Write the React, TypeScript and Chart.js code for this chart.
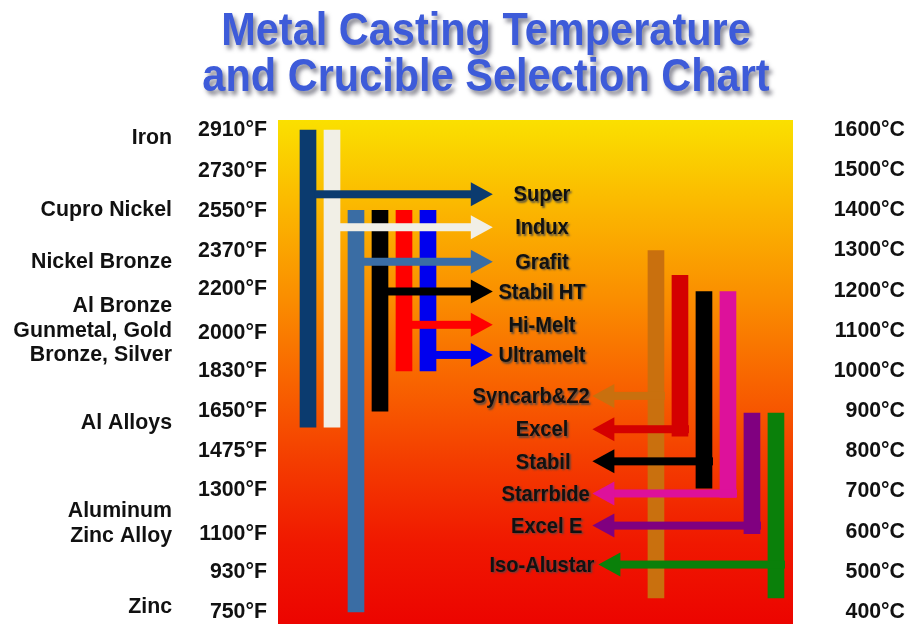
import React, { useEffect, useRef } from 'react';
import { Chart, registerables } from 'chart.js';

Chart.register(...registerables);

// ---------- data ----------
const TITLE_LINES = ['Metal Casting Temperature', 'and Crucible Selection Chart'];

const CELSIUS_TICKS = [400, 500, 600, 700, 800, 900, 1000, 1100, 1200, 1300, 1400, 1500, 1600];
const FAHRENHEIT_TICKS = [750, 930, 1100, 1300, 1475, 1650, 1830, 2000, 2200, 2370, 2550, 2730, 2910];

const METAL_NAMES: string[][] = [
  ['Zinc'],
  ['Aluminum', 'Zinc Alloy'],
  ['Al Alloys'],
  ['Al Bronze', 'Gunmetal, Gold', 'Bronze, Silver'],
  ['Nickel Bronze'],
  ['Cupro Nickel'],
  ['Iron'],
];
const METAL_TEMPS_C = [412, 620, 870, 1100, 1272, 1400, 1580];

const CRUCIBLES = ['Super', 'Indux', 'Grafit', 'Stabil HT', 'Hi-Melt', 'Ultramelt',
  'Syncarb&Z2', 'Excel', 'Stabil', 'Starrbide', 'Excel E', 'Iso-Alustar'];
const BAR_COLUMN = [1, 2, 3, 4, 5, 6, 15.5, 16.5, 17.5, 18.5, 19.5, 20.5];
const RANGE_LOW_C = [860, 860, 400, 900, 1000, 1000, 435, 838, 708, 685, 595, 435];
const RANGE_HIGH_C = [1600, 1600, 1400, 1400, 1400, 1400, 1300, 1238, 1198, 1198, 895, 895];
const ARROW_TEMP_C = [1440, 1358, 1272, 1198, 1115, 1040, 938, 855, 775, 695, 615, 518];
const ARROW_TIP_COL = [8.7, 8.7, 8.7, 8.7, 8.7, 8.7, 12.85, 12.85, 12.85, 12.85, 12.85, 13.1];
const LABEL_COL = [10.75, 10.75, 10.75, 10.75, 10.75, 10.75, 10.3, 10.75, 10.8, 10.9, 10.95, 10.75];
const CRUCIBLE_COLORS = ['#0B3B6F', '#F1EFE6', '#3A6DA4', '#000000', '#FF0000', '#0000EE',
  '#C9700E', '#D40000', '#000000', '#DD119B', '#800080', '#0A800A'];

// ---------- helpers ----------
function hasFont(name: string): boolean {
  const c = document.createElement('canvas').getContext('2d');
  if (!c) return false;
  const sample = 'Cupro Nickel 2910 Iso-Alustar';
  c.font = 'bold 30px monospace';
  const a = c.measureText(sample).width;
  c.font = `bold 30px "${name}", monospace`;
  const b = c.measureText(sample).width;
  return Math.abs(a - b) > 0.5;
}

export default function App() {
  const ref = useRef<HTMLCanvasElement | null>(null);

  useEffect(() => {
    const canvas = ref.current;
    if (!canvas) return;
    const narrow = hasFont('Liberation Sans Narrow');
    const FAMILY = narrow ? '"Liberation Sans Narrow", "Liberation Sans", Arial, sans-serif' : '"Liberation Sans", Arial, sans-serif';
    const K = narrow ? 1 : 0.82;
    const tickSize = 26 * K;
    const tickFont = { family: FAMILY, size: tickSize, weight: 'bold' as const };
    const labelFontSize = 24.5 * K;

    const backgroundPlugin = {
      id: 'bgGradient',
      beforeDraw(chart: any) {
        const { ctx, chartArea } = chart;
        const g = ctx.createLinearGradient(0, chartArea.top, 0, chartArea.bottom);
        g.addColorStop(0, '#FAE000');
        g.addColorStop(0.16, '#FBBA00');
        g.addColorStop(0.36, '#FA8C00');
        g.addColorStop(0.52, '#F86400');
        g.addColorStop(0.68, '#F43C00');
        g.addColorStop(0.84, '#F01800');
        g.addColorStop(1, '#EC0400');
        ctx.save();
        ctx.fillStyle = g;
        ctx.fillRect(chartArea.left, chartArea.top, chartArea.right - chartArea.left, chartArea.bottom - chartArea.top);
        ctx.restore();
      },
    };

    const arrowPlugin = {
      id: 'arrows',
      afterDatasetsDraw(chart: any) {
        const { ctx } = chart;
        const meta = chart.getDatasetMeta(0);
        const xs = chart.scales.x;
        const ys = chart.scales.y;
        const SHAFT = 8;
        const HEAD_LEN = 22;
        const HEAD_HALF = 12;
        ctx.save();
        CRUCIBLES.forEach((_, i) => {
          const bar = meta.data[i];
          const startX = bar.x + bar.width / 2;
          const y = ys.getPixelForValue(ARROW_TEMP_C[i]);
          const tip = xs.getPixelForValue(ARROW_TIP_COL[i]);
          const dir = tip > startX ? 1 : -1;
          const base = tip - dir * HEAD_LEN;
          ctx.fillStyle = CRUCIBLE_COLORS[i];
          ctx.fillRect(Math.min(startX, base) - 1, y - SHAFT / 2, Math.abs(base - startX) + 2, SHAFT);
          ctx.beginPath();
          ctx.moveTo(tip, y);
          ctx.lineTo(base, y - HEAD_HALF);
          ctx.lineTo(base, y + HEAD_HALF);
          ctx.closePath();
          ctx.fill();
        });
        // labels
        ctx.font = `bold ${labelFontSize}px ${FAMILY}`;
        ctx.textAlign = 'center';
        ctx.textBaseline = 'middle';
        ctx.shadowColor = 'rgba(70,70,70,0.85)';
        ctx.shadowOffsetX = 1.5;
        ctx.shadowOffsetY = 1.5;
        ctx.shadowBlur = 2;
        ctx.fillStyle = '#111111';
        CRUCIBLES.forEach((name, i) => {
          const x = xs.getPixelForValue(LABEL_COL[i]);
          const y = ys.getPixelForValue(ARROW_TEMP_C[i]) + 1;
          ctx.save();
          ctx.translate(x, y);
          ctx.scale(1, 1.12);
          ctx.fillText(name, 0, 0);
          ctx.restore();
        });
        ctx.restore();
      },
    };

    const titlePlugin = {
      id: 'shadowTitle',
      afterDraw(chart: any) {
        const { ctx } = chart;
        ctx.save();
        ctx.font = `bold 41.5px "Liberation Sans", Arial, sans-serif`;
        ctx.textAlign = 'center';
        ctx.textBaseline = 'alphabetic';
        ctx.fillStyle = '#3D5BD9';
        ctx.shadowColor = 'rgba(40,40,60,0.55)';
        ctx.shadowOffsetX = 3;
        ctx.shadowOffsetY = 4;
        ctx.shadowBlur = 4;
        const baselines = [45, 91];
        TITLE_LINES.forEach((line, i) => {
          ctx.save();
          ctx.translate(486, baselines[i]);
          ctx.scale(1, 1.1);
          ctx.fillText(line, 0, 0);
          ctx.restore();
        });
        ctx.restore();
      },
    };

    const chart = new Chart(canvas, {
      type: 'bar',
      data: {
        datasets: [
          {
            label: 'Crucibles',
            data: CRUCIBLES.map((_, i) => ({ x: BAR_COLUMN[i], y: [RANGE_LOW_C[i], RANGE_HIGH_C[i]] })) as any,
            backgroundColor: CRUCIBLE_COLORS,
            borderWidth: 0,
            barThickness: 16,
            grouped: false,
          } as any,
        ],
      },
      options: {
        animation: false,
        responsive: true,
        maintainAspectRatio: false,
        layout: { padding: { top: 120, left: 0, right: 3, bottom: 0 } },
        plugins: {
          legend: { display: false },
          title: { display: false },
          tooltip: { enabled: false },
        },
        scales: {
          x: {
            type: 'linear',
            display: false,
            min: -0.25,
            max: 21.21,
            offset: false,
          },
          y: {
            type: 'linear',
            position: 'right',
            min: 370,
            max: 1625,
            grid: { display: false, drawTicks: false },
            border: { display: false },
            afterBuildTicks: (s: any) => { s.ticks = CELSIUS_TICKS.map((v) => ({ value: v })); },
            afterFit: (s: any) => { s.width = 112; s.paddingTop = 0; s.paddingBottom = 0; },
            ticks: {
              autoSkip: false,
              crossAlign: 'far',
              padding: 0,
              color: '#111111',
              font: tickFont,
              callback: (v: any) => `${v}°C`,
            },
          },
          yF: {
            type: 'linear',
            position: 'left',
            weight: 1,
            min: 370 * 1.8 + 32,
            max: 1625 * 1.8 + 32,
            grid: { display: false, drawTicks: false },
            border: { display: false },
            afterBuildTicks: (s: any) => { s.ticks = FAHRENHEIT_TICKS.map((v) => ({ value: v })); },
            afterFit: (s: any) => { s.width = 88; s.paddingTop = 0; s.paddingBottom = 0; },
            ticks: {
              autoSkip: false,
              padding: 11,
              color: '#111111',
              font: tickFont,
              callback: (v: any) => `${v}°F`,
            },
          },
          yM: {
            type: 'linear',
            position: 'left',
            weight: 2,
            min: 370,
            max: 1625,
            grid: { display: false, drawTicks: false },
            border: { display: false },
            afterBuildTicks: (s: any) => { s.ticks = METAL_TEMPS_C.map((v) => ({ value: v })); },
            afterFit: (s: any) => { s.width = 190; s.paddingTop = 0; s.paddingBottom = 0; },
            ticks: {
              autoSkip: false,
              padding: 18,
              color: '#111111',
              font: { ...tickFont, lineHeight: 24.5 / tickSize },
              callback: (v: any) => {
                const idx = METAL_TEMPS_C.indexOf(Number(v));
                return idx >= 0 ? METAL_NAMES[idx] : '';
              },
            },
          },
        } as any,
      },
      plugins: [backgroundPlugin, arrowPlugin, titlePlugin],
    });

    return () => chart.destroy();
  }, []);

  return (
    <div style={{ position: 'fixed', left: 0, top: 0, width: 908, height: 624, background: '#ffffff' }}>
      <canvas ref={ref} />
    </div>
  );
}
